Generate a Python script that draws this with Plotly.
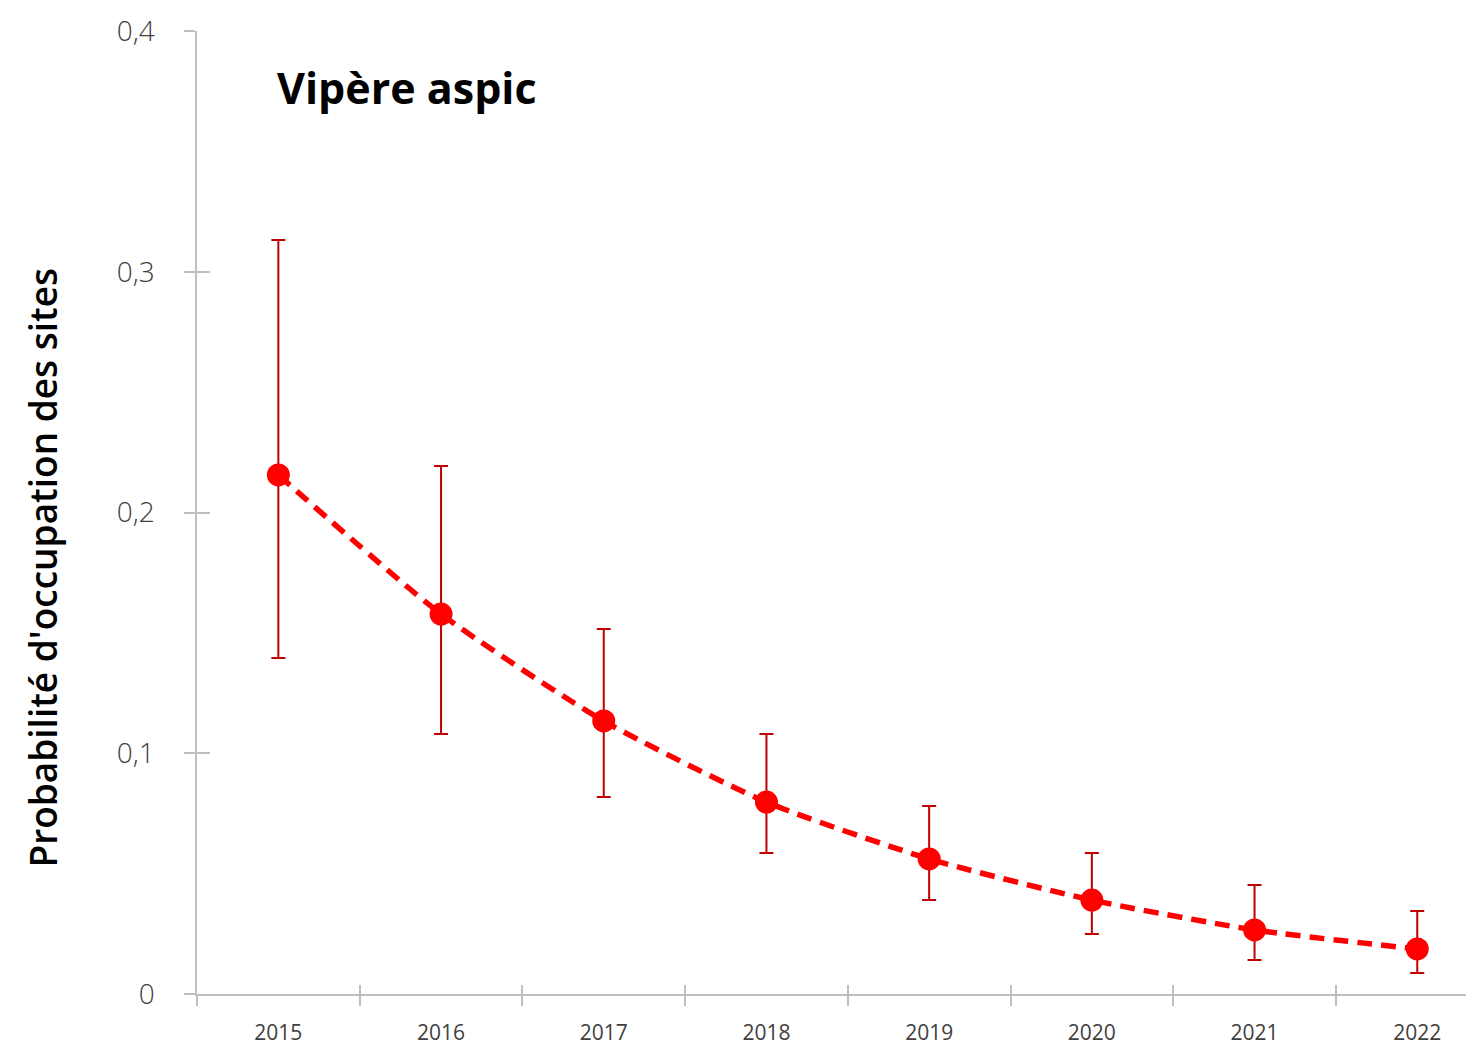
import plotly.graph_objects as go

years = ["2015", "2016", "2017", "2018", "2019", "2020", "2021", "2022"]
occupancy = [0.2156, 0.1578, 0.1134, 0.0797, 0.0561, 0.0390, 0.0266, 0.0187]
upper = [0.3132, 0.2193, 0.1516, 0.1080, 0.0781, 0.0586, 0.0453, 0.0345]
lower = [0.1396, 0.1080, 0.0818, 0.0586, 0.0390, 0.0249, 0.0141, 0.0087]
ytick_vals = [0, 0.1, 0.2, 0.3, 0.4]
ytick_text = ["0", "0,1", "0,2", "0,3", "0,4"]
xtick_bounds = [0.5, 1.5, 2.5, 3.5, 4.5, 5.5, 6.5]
title_text = "Vipère aspic"
ytitle = "Probabilité d'occupation des sites"

err_plus = [u - v for u, v in zip(upper, occupancy)]
err_minus = [v - l for v, l in zip(occupancy, lower)]

W, H = 1458, 1039
L, T, B, R = 189, 23, 53, 0
xmax = -0.5 + (W - L - R) / 162.7

fig = go.Figure()
fig.add_trace(go.Scatter(
    x=years, y=occupancy,
    mode="lines+markers",
    line=dict(color="#ff0000", width=5.5, dash="15px,9px", shape="spline", smoothing=0.6),
    marker=dict(color="#ff0000", size=23),
    error_y=dict(type="data", symmetric=False, array=err_plus, arrayminus=err_minus,
                 color="#c00000", thickness=2, width=7),
    showlegend=False,
))
# invisible helper trace so the overlay axes (inner tick halves) are drawn
fig.add_trace(go.Scatter(x=[0], y=[0], xaxis="x2", yaxis="y2", mode="markers",
                         marker=dict(opacity=0), showlegend=False, hoverinfo="skip"))

fig.add_annotation(
    x=-0.02, y=0.3767, xref="x", yref="y", text="<b>" + title_text + "</b>",
    showarrow=False, xanchor="left", yanchor="middle",
    font=dict(family="Open Sans", size=43, color="#000000"),
)
fig.add_annotation(
    x=-0.122, y=0.443, xref="paper", yref="paper", text=ytitle, textangle=-90,
    showarrow=False, xanchor="center", yanchor="middle",
    font=dict(family="Open Sans", size=37, color="#000000", weight=600),
)

axis_grey = "#bfbfbf"
fig.update_layout(
    width=W, height=H,
    margin=dict(l=L, r=R, t=T, b=B, autoexpand=False),
    plot_bgcolor="white", paper_bgcolor="white",
    font=dict(family="Open Sans"),
    xaxis=dict(
        type="category", range=[-0.5, xmax], tickson="boundaries",
        showline=True, linecolor=axis_grey, linewidth=1.5,
        ticks="outside", ticklen=10, tickcolor=axis_grey, tickwidth=1.5,
        ticklabelstandoff=19,
        tickfont=dict(family="Open Sans", size=21, color="#404040"),
        showgrid=False, zeroline=False,
    ),
    xaxis2=dict(
        overlaying="x", range=[-0.5, xmax], side="bottom", anchor="y2",
        tickvals=xtick_bounds, showticklabels=False,
        ticks="inside", ticklen=9, tickcolor=axis_grey, tickwidth=1.5,
        showline=False, showgrid=False, zeroline=False,
    ),
    yaxis=dict(
        range=[0, 0.4], tickvals=ytick_vals, ticktext=ytick_text,
        showline=True, linecolor=axis_grey, linewidth=1.5,
        ticks="outside", ticklen=11, tickcolor=axis_grey, tickwidth=1.5,
        ticklabelstandoff=24,
        tickfont=dict(family="Open Sans", size=28, color="#404040", weight=300),
        showgrid=False, zeroline=False,
    ),
    yaxis2=dict(
        overlaying="y", range=[0, 0.4], side="left", anchor="x2",
        tickvals=ytick_vals, showticklabels=False,
        ticks="inside", ticklen=13, tickcolor=axis_grey, tickwidth=1.5,
        showline=False, showgrid=False, zeroline=False,
    ),
)

fig.write_html("out.html")
